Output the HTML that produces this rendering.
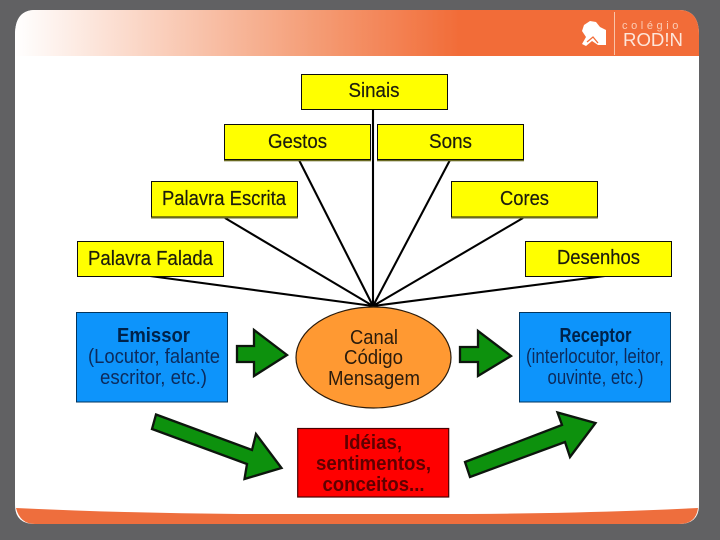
<!DOCTYPE html>
<html><head><meta charset="utf-8"><style>
html,body{margin:0;padding:0;background:#616163;width:720px;height:540px;overflow:hidden}
svg{display:block}
text{font-family:"Liberation Sans",sans-serif;text-anchor:middle}
</style></head><body>
<svg width="720" height="540" viewBox="0 0 720 540" xmlns="http://www.w3.org/2000/svg">
<defs>
<linearGradient id="g" x1="15" x2="699" y1="0" y2="0" gradientUnits="userSpaceOnUse">
<stop offset="0" stop-color="#fff"/><stop offset=".45" stop-color="#f49a72"/><stop offset=".65" stop-color="#f26c38"/><stop offset="1" stop-color="#f26c38"/></linearGradient>
<filter id="b" x="0" y="0" width="100%" height="100%"><feGaussianBlur stdDeviation="0.35"/></filter>
</defs>
<rect width="720" height="540" fill="#616163"/>
<g filter="url(#b)">
<path d="M15 35Q15 10 35 10H679Q699 10 699 35V505Q699 524 679 524H35Q15 524 15 505Z" fill="#fff"/>
<path d="M15 56V35Q15 10 35 10H679Q699 10 699 35V56Z" fill="url(#g)"/>
<path d="M16 508Q120 513 240 514H470Q600 513 698 508Q696 524 679 524H35Q20 524 16 508Z" fill="#ee6e3c"/>
<path d="M582 31L584 25L590 21L596 22L600 27L606 30V45H598L592 41L586 46L582 44L586 37Z" fill="#fff"/>
<path d="M587 42L593 37L598 43" stroke="#f26c38" stroke-width="1.300" fill="none"/>
<rect x="614" y="12" width="1" height="43" fill="#f9c4a8"/>
<text x="652" y="29" font-size="11" fill="#fbcdb6" letter-spacing="3.600">colégio</text>
<text x="653" y="46" font-size="18" fill="#fde6da" textLength="60" lengthAdjust="spacingAndGlyphs">ROD!N</text>

<g stroke="#050505" stroke-width="2.100" fill="none">
<path d="M373 110V306M299 160L373 306M450 160L373 306M225 218L373 306M523 218L373 306M150 276L373 306M605 276L373 306"/>
</g>

<g fill="#ffff00" stroke="#111" stroke-width="1">
<rect x="301.500" y="74.500" width="146" height="35"/>
<rect x="224.500" y="124.500" width="146" height="35"/>
<rect x="377.500" y="124.500" width="146" height="35"/>
<rect x="151.500" y="181.500" width="146" height="35.500"/>
<rect x="451.500" y="181.500" width="146" height="35.500"/>
<rect x="77.500" y="241.500" width="146" height="35"/>
<rect x="525.500" y="241.500" width="146" height="35"/>
</g>
<g fill="#6a6a20">
<rect x="224" y="160" width="147" height="1.300"/>
<rect x="377" y="160" width="147" height="1.300"/>
<rect x="151" y="217" width="147" height="1.500"/>
<rect x="451" y="217" width="147" height="1.500"/>
</g>
<g font-size="20" fill="#1c1c10" stroke="#1c1c10" stroke-width="0.200">
<text x="374" y="97" textLength="51" lengthAdjust="spacingAndGlyphs">Sinais</text>
<text x="297.500" y="148" textLength="59" lengthAdjust="spacingAndGlyphs">Gestos</text>
<text x="450.500" y="148" textLength="43" lengthAdjust="spacingAndGlyphs">Sons</text>
<text x="224" y="205" textLength="124" lengthAdjust="spacingAndGlyphs">Palavra Escrita</text>
<text x="524.500" y="205" textLength="49" lengthAdjust="spacingAndGlyphs">Cores</text>
<text x="150.500" y="265" textLength="125" lengthAdjust="spacingAndGlyphs">Palavra Falada</text>
<text x="598.500" y="264" textLength="83" lengthAdjust="spacingAndGlyphs">Desenhos</text>
</g>

<rect x="76.500" y="312.500" width="151" height="89.500" fill="#0a94fb" stroke="#06355e" stroke-width="1"/>
<rect x="519.500" y="312.500" width="151" height="89.500" fill="#0a94fb" stroke="#06355e" stroke-width="1"/>
<g font-size="20" fill="#072c5c">
<text x="153.500" y="342" font-weight="bold" fill="#03204a" textLength="73" lengthAdjust="spacingAndGlyphs">Emissor</text>
<text x="154" y="363" textLength="132" lengthAdjust="spacingAndGlyphs">(Locutor, falante</text>
<text x="153.500" y="384" textLength="107" lengthAdjust="spacingAndGlyphs">escritor, etc.)</text>
<text x="595.500" y="342" font-weight="bold" fill="#03204a" textLength="72" lengthAdjust="spacingAndGlyphs">Receptor</text>
<text x="595" y="363" textLength="138" lengthAdjust="spacingAndGlyphs">(interlocutor, leitor,</text>
<text x="595.500" y="384" textLength="96" lengthAdjust="spacingAndGlyphs">ouvinte, etc.)</text>
</g>

<ellipse cx="373.500" cy="357.500" rx="77.500" ry="50.500" fill="#ff9933" stroke="#2a1a08" stroke-width="1.200"/>
<g font-size="20" fill="#2b1a08">
<text x="374" y="344" textLength="48" lengthAdjust="spacingAndGlyphs">Canal</text>
<text x="373.500" y="364" textLength="59" lengthAdjust="spacingAndGlyphs">Código</text>
<text x="374" y="385" textLength="92" lengthAdjust="spacingAndGlyphs">Mensagem</text>
</g>

<rect x="297.700" y="428.500" width="151" height="68.500" fill="#ff0000" stroke="#4a0606" stroke-width="1.200"/>
<g font-size="20" font-weight="bold" fill="#5e0404">
<text x="373" y="449" textLength="58" lengthAdjust="spacingAndGlyphs">Idéias,</text>
<text x="373.500" y="470" textLength="115" lengthAdjust="spacingAndGlyphs">sentimentos,</text>
<text x="373.500" y="491" textLength="102" lengthAdjust="spacingAndGlyphs">conceitos...</text>
</g>

<g fill="#079108" stroke="#0a120a" stroke-width="2.300" stroke-linejoin="miter">
<polygon points="237,346 254,346 254,330 287,355 254,376 254,362 237,362"/>
<polygon points="460,347 478,347 478,331 511,356 478,376 478,362 460,362"/>
<polygon points="156,414.500 252,450 256,434 281.500,468 244.500,479 247,464 152,429"/>
<polygon points="465,462 562,425 557.500,412.500 595.500,423 570,457 565,442 470,477"/>
</g>
</g>
</svg>
</body></html>
